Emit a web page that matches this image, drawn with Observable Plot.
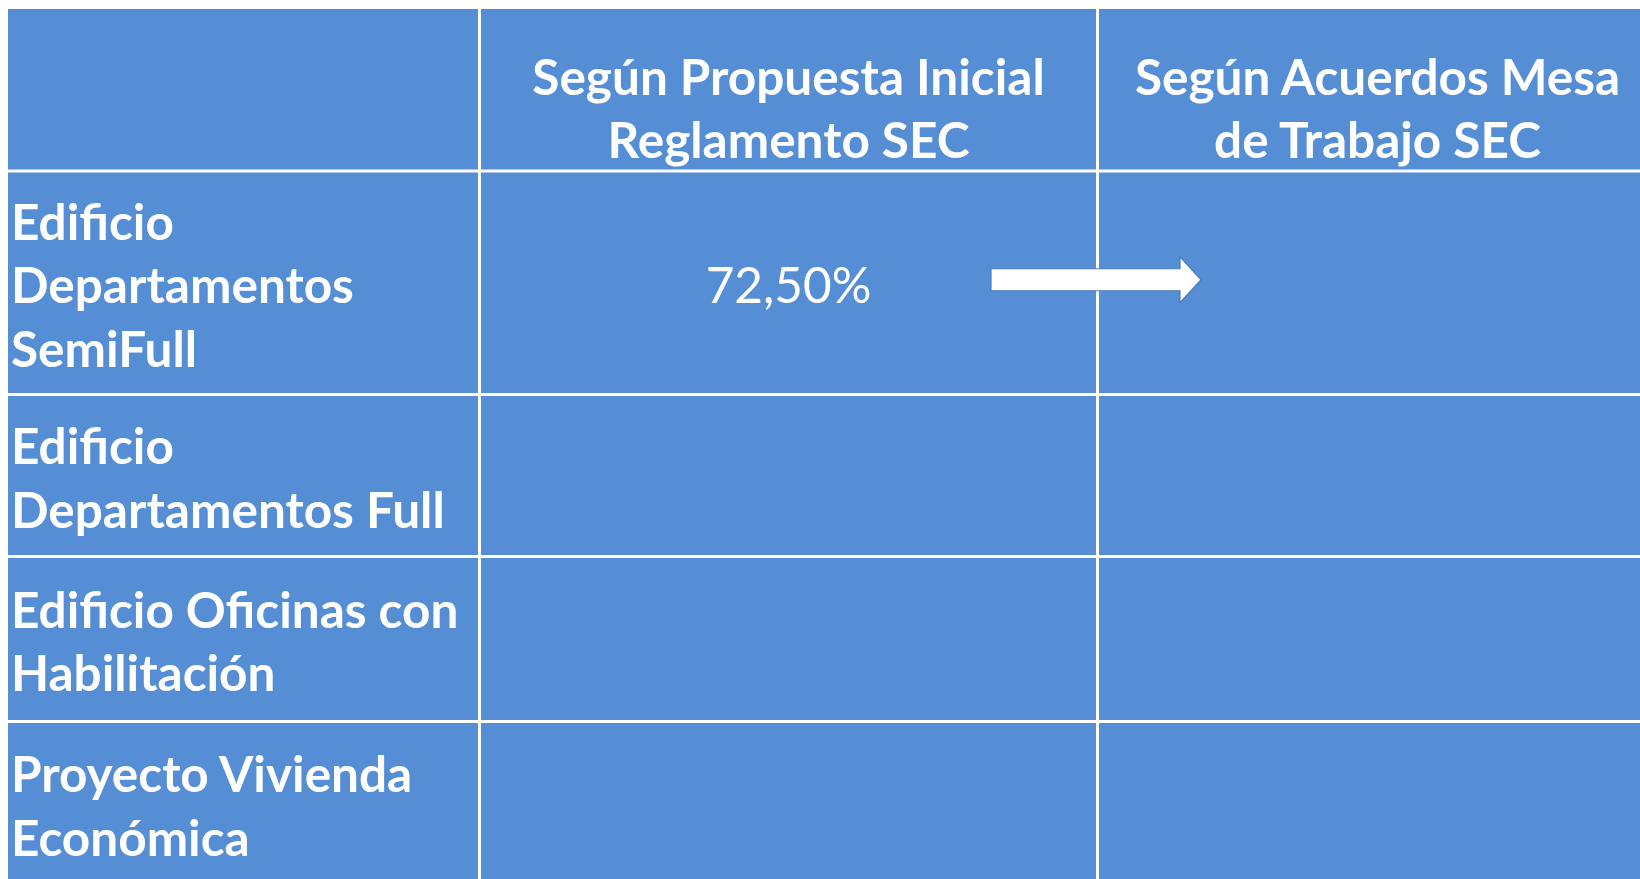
<!DOCTYPE html>
<html>
<head>
<meta charset="utf-8">
<script src="https://cdn.jsdelivr.net/npm/d3@7"></script>
<script src="https://cdn.jsdelivr.net/npm/@observablehq/plot@0.6"></script>
<style>
  html, body { margin: 0; padding: 0; background: #ffffff; overflow: hidden; }
  #chart svg { display: block; }
</style>
</head>
<body>
<div id="chart"></div>
<script>
// ---- Data ----
const columnHeaders = ["", "Según Propuesta Inicial\nReglamento SEC", "Según Acuerdos Mesa\nde Trabajo SEC"];
const rowLabels = [
  "Edificio\nDepartamentos\nSemiFull",
  "Edificio\nDepartamentos Full",
  "Edificio Oficinas con\nHabilitación",
  "Proyecto Vivienda\nEconómica"
];
const propuestaInicial = ["72,50%", "", "", ""];
const acuerdosMesa = ["", "", "", ""];

// ---- Table layout (grid geometry) ----
const W = 1640, H = 879;
const colEdges = [8, 479, 1097, 1657];
const rowEdges = [9, 170.5, 394, 556, 721, 885];
const BLUE = "#558ED5";
const FONT = "Lato, 'Open Sans', sans-serif";
const FS = 49.5;
const LH = 63.5 / FS;

const nCols = colEdges.length - 1, nRows = rowEdges.length - 1;
const cells = [];
for (let r = 0; r < nRows; ++r)
  for (let c = 0; c < nCols; ++c)
    cells.push({x1: colEdges[c], x2: colEdges[c + 1], y1: rowEdges[r], y2: rowEdges[r + 1]});

const colCenter = c => (colEdges[c] + colEdges[c + 1]) / 2;
const rowCenter = r => (rowEdges[r] + rowEdges[r + 1]) / 2;

const headerCells = columnHeaders.map((t, c) => ({text: t, c})).filter(d => d.text);
const labelCells = rowLabels.map((t, r) => ({text: t, r: r + 1}));
const valueCells = [
  ...propuestaInicial.map((t, r) => ({text: t, c: 1, r: r + 1})),
  ...acuerdosMesa.map((t, r) => ({text: t, c: 2, r: r + 1}))
].filter(d => d.text);

// block arrow from column 1 into column 2 on first data row
const ax0 = colEdges[2] - 106, axTip = colEdges[2] + 104, axHead = colEdges[2] + 83;
const ay = rowCenter(1) - 2.5, shaft = 11, head = 23;
const arrow = [
  {x: ax0, y1: ay + shaft, y2: ay - shaft},
  {x: axHead, y1: ay + shaft, y2: ay - shaft},
  {x: axHead, y1: ay + head, y2: ay - head},
  {x: axTip, y1: ay, y2: ay}
];

const chart = Plot.plot({
  width: W,
  height: H,
  margin: 0,
  x: {type: "linear", domain: [0, W], range: [0, W], axis: null},
  y: {type: "linear", domain: [0, H], range: [0, H], axis: null},
  style: {background: "#ffffff", fontFamily: FONT, overflow: "hidden"},
  marks: [
    Plot.rect(cells, {x1: "x1", x2: "x2", y1: "y1", y2: "y2", fill: BLUE}),
    Plot.ruleX(colEdges.slice(1, -1), {y1: rowEdges[0], y2: H, stroke: "#ffffff", strokeWidth: 3}),
    Plot.ruleY(rowEdges.slice(1, -1), {x1: colEdges[0], x2: W, stroke: "#ffffff", strokeWidth: 3}),
    Plot.text(headerCells, {
      x: d => colCenter(d.c), y: d => rowCenter(0), dy: 16,
      text: "text", fill: "#ffffff", fontSize: FS, fontWeight: "bold",
      textAnchor: "middle", lineAnchor: "middle", lineHeight: LH
    }),
    Plot.text(labelCells, {
      x: d => colEdges[0] + 2.5, y: d => rowCenter(d.r),
      text: "text", fill: "#ffffff", fontSize: FS, fontWeight: "bold",
      textAnchor: "start", lineAnchor: "middle", lineHeight: LH
    }),
    Plot.text(valueCells, {
      x: d => colCenter(d.c), y: d => rowCenter(d.r),
      text: "text", fill: "#ffffff", fontSize: FS, fontWeight: "normal",
      textAnchor: "middle", lineAnchor: "middle", lineHeight: LH
    }),
    Plot.areaY(arrow, {x: "x", y1: "y1", y2: "y2", fill: "#ffffff", stroke: "#4A7EBB", strokeWidth: 1.2, curve: "linear"})
  ]
});
document.getElementById("chart").appendChild(chart);
</script>
</body>
</html>
